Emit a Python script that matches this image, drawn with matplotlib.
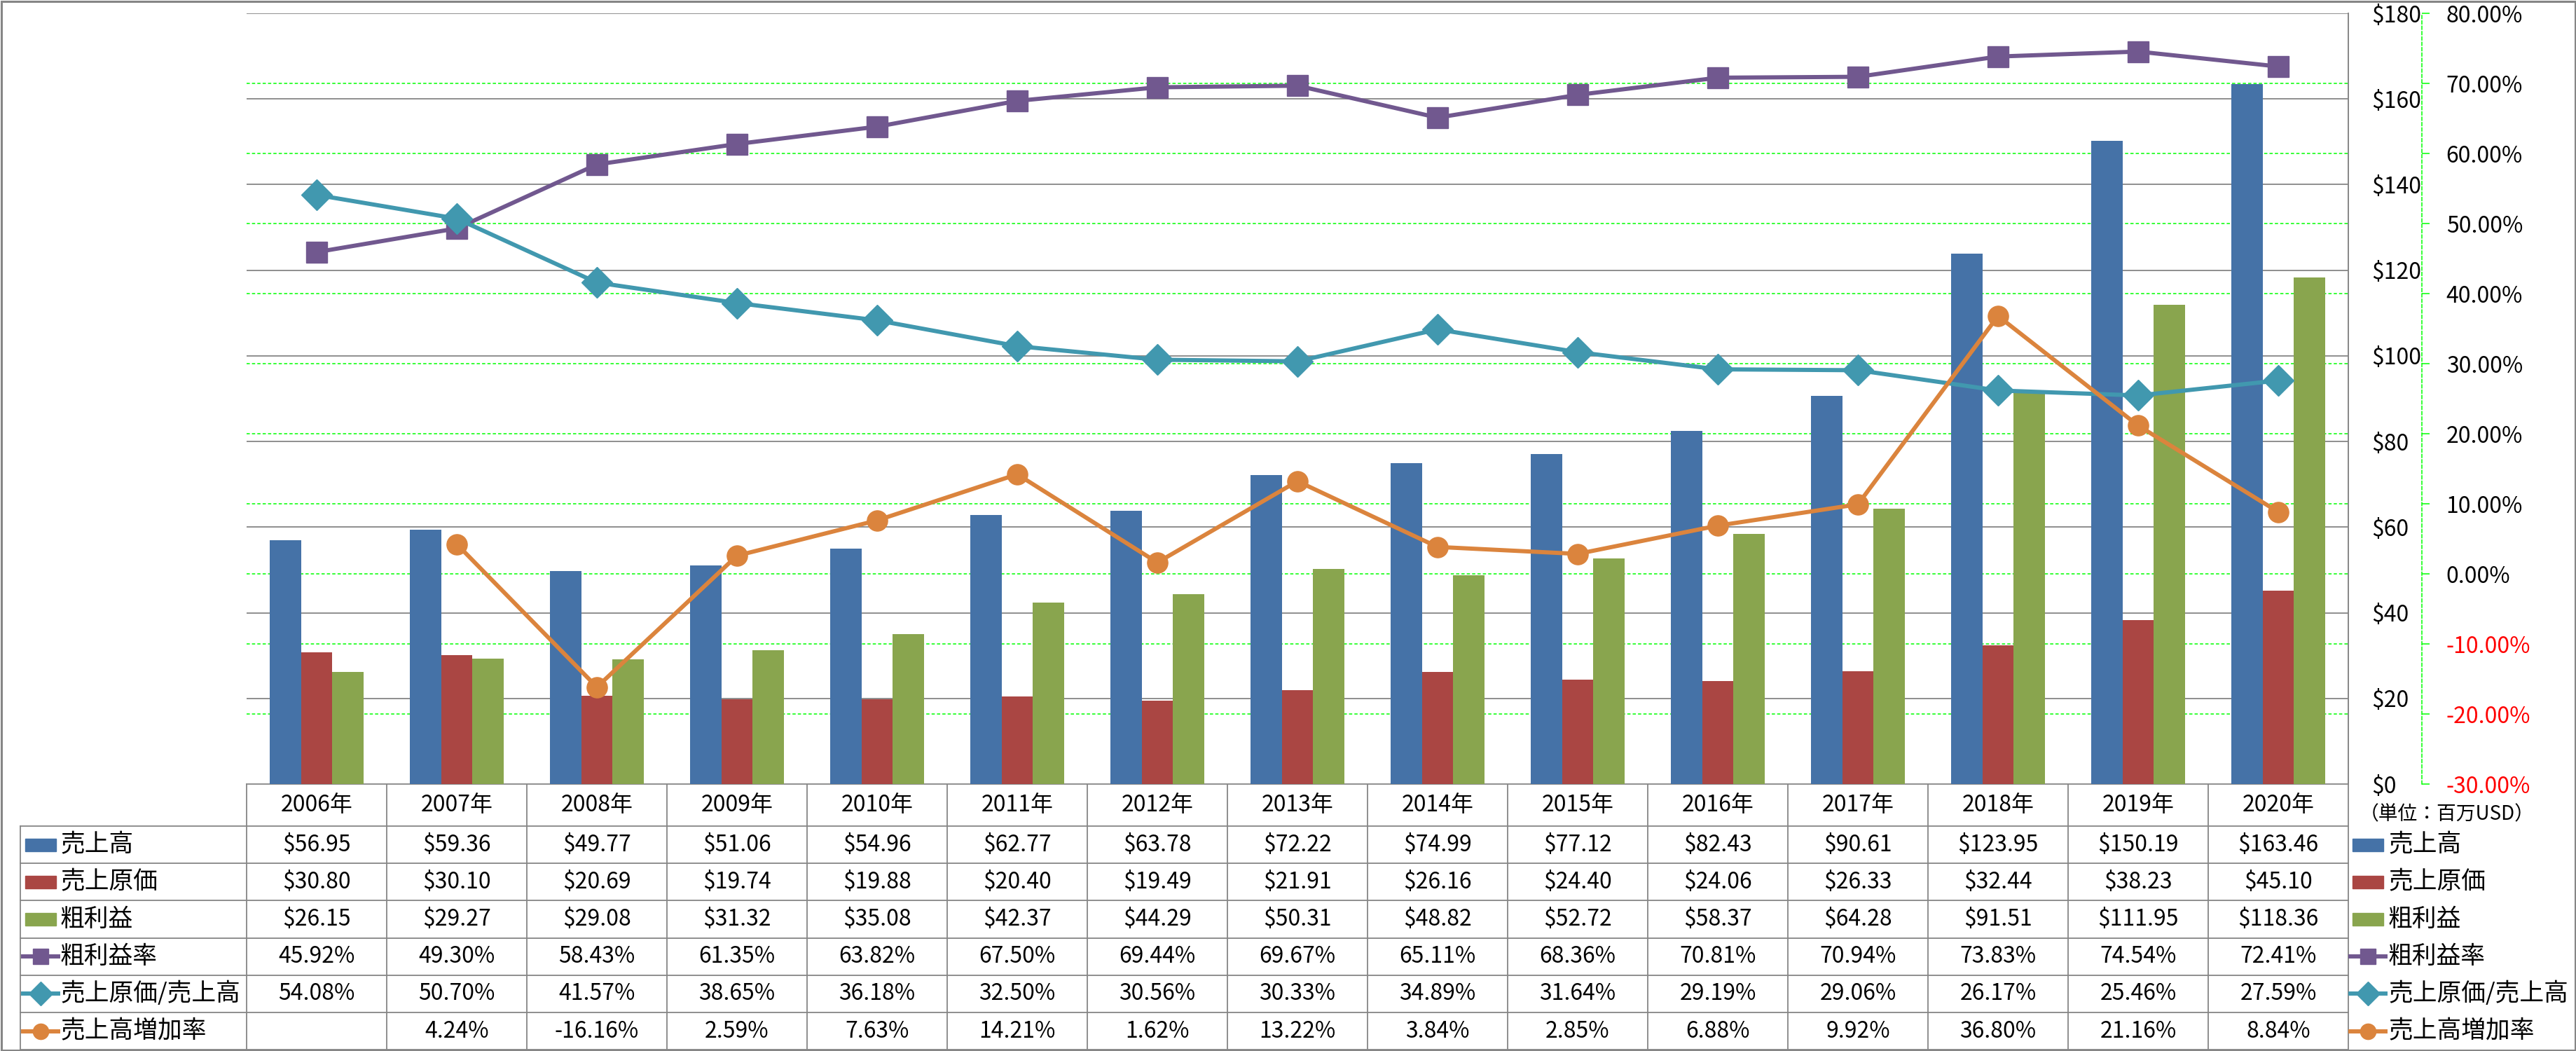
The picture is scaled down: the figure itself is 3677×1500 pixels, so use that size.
import numpy as np
import matplotlib.pyplot as plt
from matplotlib.patches import Rectangle
from matplotlib.transforms import blended_transform_factory

plt.rcParams['font.family'] = ['Noto Sans CJK JP', 'DejaVu Sans']

years = ['2006年', '2007年', '2008年', '2009年', '2010年', '2011年', '2012年', '2013年',
         '2014年', '2015年', '2016年', '2017年', '2018年', '2019年', '2020年']
sales = [56.95, 59.36, 49.77, 51.06, 54.96, 62.77, 63.78, 72.22, 74.99, 77.12,
         82.43, 90.61, 123.95, 150.19, 163.46]
cogs = [30.80, 30.10, 20.69, 19.74, 19.88, 20.40, 19.49, 21.91, 26.16, 24.40,
        24.06, 26.33, 32.44, 38.23, 45.10]
gross = [26.15, 29.27, 29.08, 31.32, 35.08, 42.37, 44.29, 50.31, 48.82, 52.72,
         58.37, 64.28, 91.51, 111.95, 118.36]
gm_rate = [45.92, 49.30, 58.43, 61.35, 63.82, 67.50, 69.44, 69.67, 65.11, 68.36,
           70.81, 70.94, 73.83, 74.54, 72.41]
cogs_ratio = [54.08, 50.70, 41.57, 38.65, 36.18, 32.50, 30.56, 30.33, 34.89, 31.64,
              29.19, 29.06, 26.17, 25.46, 27.59]
growth = [np.nan, 4.24, -16.16, 2.59, 7.63, 14.21, 1.62, 13.22, 3.84, 2.85,
          6.88, 9.92, 36.80, 21.16, 8.84]

usd_ticks = list(range(0, 181, 20))
pct_ticks = list(range(-30, 81, 10))

BLUE, RED, GREEN = '#4572A7', '#AA4643', '#89A54E'
PURPLE, TEAL, ORANGE = '#71588F', '#4198AF', '#DB843D'
GRAY = '#868686'
LIME = '#00FF00'

W, H = 3677, 1500
fig = plt.figure(figsize=(W / 100, H / 100), dpi=100)

# plot area in pixels
L, R, T, B = 352, 3352, 19, 1119
ax = fig.add_axes([L / W, 1 - B / H, (R - L) / W, (B - T) / H])
n = len(years)
x = np.arange(n)
bw = 0.222
ax.bar(x - bw, sales, bw, color=BLUE, zorder=2)
ax.bar(x, cogs, bw, color=RED, zorder=2)
ax.bar(x + bw, gross, bw, color=GREEN, zorder=2)
ax.set_xlim(-0.5, n - 0.5)
ax.set_xticks([])

ax2 = ax.twinx()

ax.set_yticks(usd_ticks)
ax.set_yticklabels([f'${v}' for v in usd_ticks])
ax.yaxis.tick_right()
ax.tick_params(axis='y', length=0, pad=24, labelsize=23)
for s in ['top', 'left', 'bottom']:
    ax.spines[s].set_visible(False)
ax.spines['right'].set_visible(True)
ax.spines['right'].set_color(GRAY)
ax.spines['right'].set_linewidth(1.4)
ax.yaxis.grid(True, color=GRAY, lw=1.3, zorder=1.2)
ax.set_axisbelow(True)

for s in ['top', 'left', 'bottom']:
    ax2.spines[s].set_visible(False)
ax2.spines['right'].set_position(('outward', 75.6))
ax2.spines['right'].set_color(LIME)
ax2.spines['right'].set_linestyle((0, (3, 2)))
ax2.spines['right'].set_linewidth(1.1)
ax2.set_ylim(-30, 80)
ax2.set_yticks(pct_ticks)
ax2.set_yticklabels([f'{v:.2f}%' for v in pct_ticks])
ax2.tick_params(axis='y', direction='out', length=8, width=1.1, color=LIME,
                pad=17, labelsize=23)
for lbl, v in zip(ax2.get_yticklabels(), pct_ticks):
    lbl.set_color('red' if v < 0 else 'black')

# green dashed grid for the percent axis, kept under the bars
trans = blended_transform_factory(ax.transAxes, ax2.transData)
for p in pct_ticks[1:-1]:
    ax.plot([0, 1], [p, p], transform=trans, color=LIME, lw=1.1,
            ls=(0, (3, 2)), zorder=1.1)
ax.set_ylim(0, 180)

ax2.plot(x, gm_rate, color=PURPLE, lw=4.3, marker='s', ms=21, zorder=3)
ax2.plot(x, cogs_ratio, color=TEAL, lw=4.3, marker='D', ms=22, zorder=3)
ax2.plot(x, growth, color=ORANGE, lw=4.3, marker='o', ms=21, zorder=3)

# data table below the chart, drawn in pixel coordinates
tab = fig.add_axes([0, 0, 1, 1], zorder=-1)
tab.set_xlim(0, W)
tab.set_ylim(H, 0)
tab.axis('off')

col_w = (R - L) / n
row_top = 1179
row_h = 53.2
rows_y = [row_top + k * row_h for k in range(7)]
left_edge = 29

tab.plot([L, R], [B, B], color=GRAY, lw=1.3)
for yy in rows_y:
    tab.plot([left_edge, R], [yy, yy], color=GRAY, lw=1.3)
for k in range(n + 1):
    xx = L + k * col_w
    tab.plot([xx, xx], [B, rows_y[-1]], color=GRAY, lw=1.3)
tab.plot([left_edge, left_edge], [row_top, rows_y[-1]], color=GRAY, lw=1.3)

for i, yr in enumerate(years):
    tab.text(L + (i + 0.5) * col_w, (B + row_top) / 2, yr, ha='center',
             va='center', fontsize=23)

row_names = ['売上高', '売上原価', '粗利益', '粗利益率', '売上原価/売上高', '売上高増加率']
row_vals = [sales, cogs, gross, gm_rate, cogs_ratio, growth]
row_fmt = ['${:.2f}', '${:.2f}', '${:.2f}', '{:.2f}%', '{:.2f}%', '{:.2f}%']
row_style = [('bar', BLUE), ('bar', RED), ('bar', GREEN),
             ('s', PURPLE), ('D', TEAL), ('o', ORANGE)]


def legend_key(x0, x1, yc, style):
    kind, c = style
    if kind == 'bar':
        tab.add_patch(Rectangle((x0 + 3, yc - 9), x1 - x0 - 6, 18, color=c))
    else:
        tab.plot([x0, x1], [yc, yc], color=c, lw=4.3)
        tab.plot([(x0 + x1) / 2], [yc], marker=kind, color=c,
                 ms=17 if kind == 'D' else 16)


for r in range(6):
    yc = rows_y[r] + row_h / 2
    legend_key(33, 83, yc, row_style[r])
    tab.text(86, yc, row_names[r], ha='left', va='center', fontsize=25)
    legend_key(3355, 3405, yc, row_style[r])
    tab.text(3409, yc, row_names[r], ha='left', va='center', fontsize=25)
    for i, v in enumerate(row_vals[r]):
        if np.isnan(v):
            continue
        tab.text(L + (i + 0.5) * col_w, yc, row_fmt[r].format(v), ha='center',
                 va='center', fontsize=23)

tab.text(3368, 1162, '（単位：百万USD）', ha='left', va='center', fontsize=20)
tab.add_patch(Rectangle((1.5, 1.5), W - 3, H - 3, fill=False, ec=GRAY, lw=2.2))

fig.savefig('out.png', dpi=100)
